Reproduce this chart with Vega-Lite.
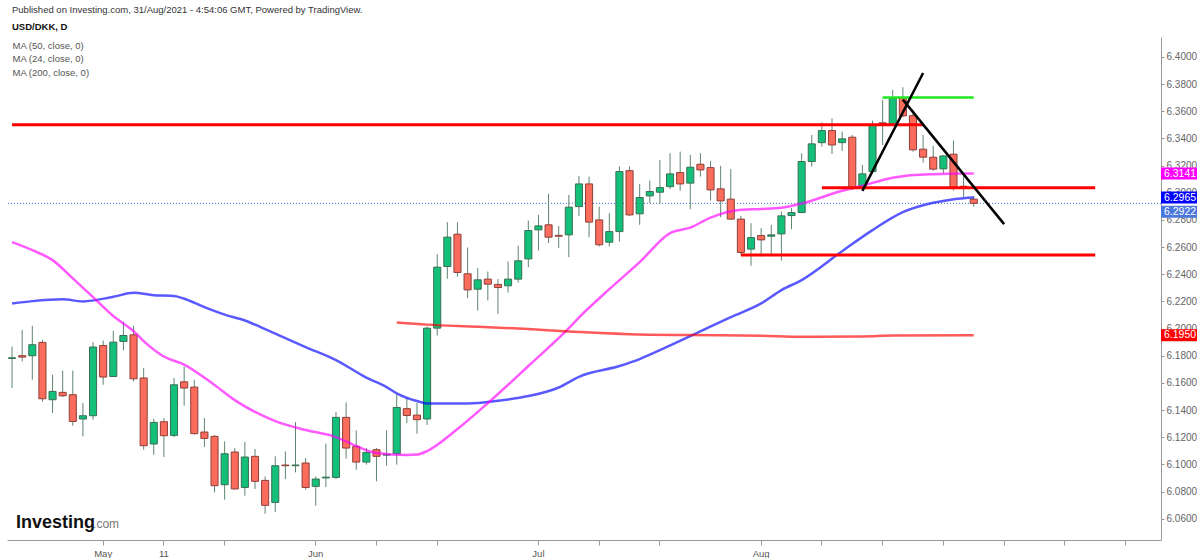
{
  "$schema": "https://vega.github.io/schema/vega-lite/v6.json",
  "width": 1154,
  "height": 503,
  "padding": {"left": 6, "top": 5, "right": 0, "bottom": 0},
  "background": "white",
  "title": {
    "text": "Published on Investing.com, 31/Aug/2021 - 4:54:06 GMT, Powered by TradingView.",
    "subtitle": "USD/DKK, D",
    "anchor": "start",
    "frame": "group",
    "dx": 5,
    "offset": 6,
    "font": "Liberation Sans",
    "fontSize": 9.5,
    "fontWeight": "normal",
    "color": "#333333",
    "subtitleFont": "Liberation Sans",
    "subtitleFontSize": 9.5,
    "subtitleFontWeight": "bold",
    "subtitleColor": "#111111",
    "subtitlePadding": 7
  },
  "config": {
    "view": {"stroke": null},
    "font": "Liberation Sans",
    "axis": {"labelOverlap": false, "labelBound": false}
  },
  "datasets": {
    "candles": [
      {"d": "2021-04-20", "o": 6.1780, "h": 6.1868, "l": 6.1562, "c": 6.1785},
      {"d": "2021-04-21", "o": 6.1800, "h": 6.1991, "l": 6.1758, "c": 6.1790},
      {"d": "2021-04-22", "o": 6.1800, "h": 6.2020, "l": 6.1623, "c": 6.1881},
      {"d": "2021-04-23", "o": 6.1898, "h": 6.1917, "l": 6.1463, "c": 6.1483},
      {"d": "2021-04-26", "o": 6.1476, "h": 6.1660, "l": 6.1378, "c": 6.1537},
      {"d": "2021-04-27", "o": 6.1530, "h": 6.1691, "l": 6.1496, "c": 6.1505},
      {"d": "2021-04-28", "o": 6.1513, "h": 6.1691, "l": 6.1284, "c": 6.1316},
      {"d": "2021-04-29", "o": 6.1334, "h": 6.1452, "l": 6.1206, "c": 6.1358},
      {"d": "2021-04-30", "o": 6.1358, "h": 6.1900, "l": 6.1329, "c": 6.1864},
      {"d": "2021-05-03", "o": 6.1875, "h": 6.1912, "l": 6.1586, "c": 6.1643},
      {"d": "2021-05-04", "o": 6.1647, "h": 6.1984, "l": 6.1643, "c": 6.1900},
      {"d": "2021-05-05", "o": 6.1905, "h": 6.2052, "l": 6.1839, "c": 6.1949},
      {"d": "2021-05-06", "o": 6.1954, "h": 6.2020, "l": 6.1610, "c": 6.1630},
      {"d": "2021-05-07", "o": 6.1636, "h": 6.1709, "l": 6.1108, "c": 6.1137},
      {"d": "2021-05-10", "o": 6.1150, "h": 6.1334, "l": 6.1071, "c": 6.1309},
      {"d": "2021-05-11", "o": 6.1314, "h": 6.1341, "l": 6.1054, "c": 6.1211},
      {"d": "2021-05-12", "o": 6.1213, "h": 6.1636, "l": 6.1201, "c": 6.1586},
      {"d": "2021-05-13", "o": 6.1608, "h": 6.1721, "l": 6.1432, "c": 6.1562},
      {"d": "2021-05-14", "o": 6.1569, "h": 6.1623, "l": 6.1220, "c": 6.1226},
      {"d": "2021-05-17", "o": 6.1238, "h": 6.1341, "l": 6.1128, "c": 6.1191},
      {"d": "2021-05-18", "o": 6.1206, "h": 6.1215, "l": 6.0794, "c": 6.0843},
      {"d": "2021-05-19", "o": 6.0850, "h": 6.1169, "l": 6.0740, "c": 6.1078},
      {"d": "2021-05-20", "o": 6.1091, "h": 6.1120, "l": 6.0814, "c": 6.0819},
      {"d": "2021-05-21", "o": 6.0830, "h": 6.1164, "l": 6.0769, "c": 6.1054},
      {"d": "2021-05-24", "o": 6.1059, "h": 6.1113, "l": 6.0819, "c": 6.0875},
      {"d": "2021-05-25", "o": 6.0882, "h": 6.0911, "l": 6.0637, "c": 6.0698},
      {"d": "2021-05-26", "o": 6.0720, "h": 6.1059, "l": 6.0649, "c": 6.0990},
      {"d": "2021-05-27", "o": 6.0995, "h": 6.1095, "l": 6.0892, "c": 6.0990},
      {"d": "2021-05-28", "o": 6.0990, "h": 6.1312, "l": 6.0941, "c": 6.0995},
      {"d": "2021-05-31", "o": 6.1010, "h": 6.1047, "l": 6.0814, "c": 6.0830},
      {"d": "2021-06-01", "o": 6.0838, "h": 6.0911, "l": 6.0696, "c": 6.0892},
      {"d": "2021-06-02", "o": 6.0900, "h": 6.1152, "l": 6.0833, "c": 6.0906},
      {"d": "2021-06-03", "o": 6.0904, "h": 6.1385, "l": 6.0892, "c": 6.1346},
      {"d": "2021-06-04", "o": 6.1346, "h": 6.1456, "l": 6.1042, "c": 6.1120},
      {"d": "2021-06-07", "o": 6.1132, "h": 6.1250, "l": 6.0961, "c": 6.1017},
      {"d": "2021-06-08", "o": 6.1017, "h": 6.1120, "l": 6.0998, "c": 6.1088},
      {"d": "2021-06-09", "o": 6.1108, "h": 6.1120, "l": 6.0875, "c": 6.1059},
      {"d": "2021-06-10", "o": 6.1068, "h": 6.1250, "l": 6.0990, "c": 6.1074},
      {"d": "2021-06-11", "o": 6.1078, "h": 6.1513, "l": 6.0998, "c": 6.1419},
      {"d": "2021-06-14", "o": 6.1410, "h": 6.1488, "l": 6.1304, "c": 6.1360},
      {"d": "2021-06-15", "o": 6.1363, "h": 6.1452, "l": 6.1226, "c": 6.1329},
      {"d": "2021-06-16", "o": 6.1334, "h": 6.2015, "l": 6.1290, "c": 6.2003},
      {"d": "2021-06-17", "o": 6.2003, "h": 6.2548, "l": 6.1949, "c": 6.2452},
      {"d": "2021-06-18", "o": 6.2457, "h": 6.2784, "l": 6.2366, "c": 6.2673},
      {"d": "2021-06-21", "o": 6.2695, "h": 6.2784, "l": 6.2383, "c": 6.2413},
      {"d": "2021-06-22", "o": 6.2403, "h": 6.2597, "l": 6.2224, "c": 6.2285},
      {"d": "2021-06-23", "o": 6.2290, "h": 6.2445, "l": 6.2133, "c": 6.2359},
      {"d": "2021-06-24", "o": 6.2364, "h": 6.2420, "l": 6.2207, "c": 6.2327},
      {"d": "2021-06-25", "o": 6.2325, "h": 6.2364, "l": 6.2109, "c": 6.2302},
      {"d": "2021-06-28", "o": 6.2315, "h": 6.2494, "l": 6.2265, "c": 6.2364},
      {"d": "2021-06-29", "o": 6.2364, "h": 6.2611, "l": 6.2339, "c": 6.2499},
      {"d": "2021-06-30", "o": 6.2513, "h": 6.2795, "l": 6.2452, "c": 6.2722},
      {"d": "2021-07-01", "o": 6.2727, "h": 6.2837, "l": 6.2575, "c": 6.2756},
      {"d": "2021-07-02", "o": 6.2764, "h": 6.2992, "l": 6.2629, "c": 6.2673},
      {"d": "2021-07-05", "o": 6.2686, "h": 6.2756, "l": 6.2592, "c": 6.2680},
      {"d": "2021-07-06", "o": 6.2690, "h": 6.2984, "l": 6.2526, "c": 6.2894},
      {"d": "2021-07-07", "o": 6.2898, "h": 6.3124, "l": 6.2830, "c": 6.3065},
      {"d": "2021-07-08", "o": 6.3065, "h": 6.3119, "l": 6.2673, "c": 6.2784},
      {"d": "2021-07-09", "o": 6.2800, "h": 6.2898, "l": 6.2604, "c": 6.2617},
      {"d": "2021-07-12", "o": 6.2636, "h": 6.2850, "l": 6.2604, "c": 6.2714},
      {"d": "2021-07-13", "o": 6.2714, "h": 6.3193, "l": 6.2641, "c": 6.3156},
      {"d": "2021-07-14", "o": 6.3163, "h": 6.3193, "l": 6.2830, "c": 6.2837},
      {"d": "2021-07-15", "o": 6.2845, "h": 6.3063, "l": 6.2764, "c": 6.2965},
      {"d": "2021-07-16", "o": 6.2977, "h": 6.3090, "l": 6.2923, "c": 6.3009},
      {"d": "2021-07-19", "o": 6.3004, "h": 6.3242, "l": 6.2918, "c": 6.3038},
      {"d": "2021-07-20", "o": 6.3045, "h": 6.3291, "l": 6.3026, "c": 6.3139},
      {"d": "2021-07-21", "o": 6.3149, "h": 6.3303, "l": 6.3016, "c": 6.3065},
      {"d": "2021-07-22", "o": 6.3071, "h": 6.3279, "l": 6.2879, "c": 6.3188},
      {"d": "2021-07-23", "o": 6.3210, "h": 6.3291, "l": 6.3119, "c": 6.3168},
      {"d": "2021-07-26", "o": 6.3185, "h": 6.3235, "l": 6.2942, "c": 6.3021},
      {"d": "2021-07-27", "o": 6.3029, "h": 6.3198, "l": 6.2820, "c": 6.2940},
      {"d": "2021-07-28", "o": 6.2953, "h": 6.3174, "l": 6.2800, "c": 6.2806},
      {"d": "2021-07-29", "o": 6.2806, "h": 6.2830, "l": 6.2543, "c": 6.2560},
      {"d": "2021-07-30", "o": 6.2585, "h": 6.2776, "l": 6.2462, "c": 6.2670},
      {"d": "2021-08-02", "o": 6.2685, "h": 6.2739, "l": 6.2530, "c": 6.2653},
      {"d": "2021-08-03", "o": 6.2680, "h": 6.2764, "l": 6.2535, "c": 6.2690},
      {"d": "2021-08-04", "o": 6.2697, "h": 6.2862, "l": 6.2501, "c": 6.2830},
      {"d": "2021-08-05", "o": 6.2832, "h": 6.2887, "l": 6.2732, "c": 6.2854},
      {"d": "2021-08-06", "o": 6.2854, "h": 6.3291, "l": 6.2850, "c": 6.3230},
      {"d": "2021-08-09", "o": 6.3230, "h": 6.3426, "l": 6.3193, "c": 6.3360},
      {"d": "2021-08-10", "o": 6.3369, "h": 6.3519, "l": 6.3340, "c": 6.3458},
      {"d": "2021-08-11", "o": 6.3458, "h": 6.3549, "l": 6.3286, "c": 6.3352},
      {"d": "2021-08-12", "o": 6.3369, "h": 6.3450, "l": 6.3308, "c": 6.3397},
      {"d": "2021-08-13", "o": 6.3409, "h": 6.3426, "l": 6.3021, "c": 6.3034},
      {"d": "2021-08-16", "o": 6.3041, "h": 6.3205, "l": 6.3021, "c": 6.3139},
      {"d": "2021-08-17", "o": 6.3156, "h": 6.3531, "l": 6.3149, "c": 6.3500},
      {"d": "2021-08-18", "o": 6.3515, "h": 6.3684, "l": 6.3352, "c": 6.3510},
      {"d": "2021-08-19", "o": 6.3507, "h": 6.3757, "l": 6.3500, "c": 6.3696},
      {"d": "2021-08-20", "o": 6.3700, "h": 6.3777, "l": 6.3556, "c": 6.3566},
      {"d": "2021-08-23", "o": 6.3568, "h": 6.3610, "l": 6.3303, "c": 6.3316},
      {"d": "2021-08-24", "o": 6.3321, "h": 6.3426, "l": 6.3222, "c": 6.3262},
      {"d": "2021-08-25", "o": 6.3262, "h": 6.3345, "l": 6.3163, "c": 6.3174},
      {"d": "2021-08-26", "o": 6.3176, "h": 6.3279, "l": 6.3144, "c": 6.3271},
      {"d": "2021-08-27", "o": 6.3284, "h": 6.3384, "l": 6.3016, "c": 6.3034},
      {"d": "2021-08-30", "o": 6.3048, "h": 6.3139, "l": 6.2968, "c": 6.3042},
      {"d": "2021-08-31", "o": 6.2953, "h": 6.2977, "l": 6.2898, "c": 6.2922}
    ],
    "ma": [
      {"ma": "MA (50, close, 0)", "d": "2021-04-20", "v": 6.2185},
      {"ma": "MA (50, close, 0)", "d": "2021-04-22", "v": 6.2202},
      {"ma": "MA (50, close, 0)", "d": "2021-04-27", "v": 6.2215},
      {"ma": "MA (50, close, 0)", "d": "2021-04-29", "v": 6.2200},
      {"ma": "MA (50, close, 0)", "d": "2021-05-04", "v": 6.2234},
      {"ma": "MA (50, close, 0)", "d": "2021-05-06", "v": 6.2263},
      {"ma": "MA (50, close, 0)", "d": "2021-05-10", "v": 6.2246},
      {"ma": "MA (50, close, 0)", "d": "2021-05-12", "v": 6.2239},
      {"ma": "MA (50, close, 0)", "d": "2021-05-13", "v": 6.2220},
      {"ma": "MA (50, close, 0)", "d": "2021-05-17", "v": 6.2158},
      {"ma": "MA (50, close, 0)", "d": "2021-05-19", "v": 6.2103},
      {"ma": "MA (50, close, 0)", "d": "2021-05-21", "v": 6.2059},
      {"ma": "MA (50, close, 0)", "d": "2021-05-25", "v": 6.1996},
      {"ma": "MA (50, close, 0)", "d": "2021-05-27", "v": 6.1930},
      {"ma": "MA (50, close, 0)", "d": "2021-05-31", "v": 6.1864},
      {"ma": "MA (50, close, 0)", "d": "2021-06-03", "v": 6.1768},
      {"ma": "MA (50, close, 0)", "d": "2021-06-08", "v": 6.1639},
      {"ma": "MA (50, close, 0)", "d": "2021-06-10", "v": 6.1569},
      {"ma": "MA (50, close, 0)", "d": "2021-06-11", "v": 6.1523},
      {"ma": "MA (50, close, 0)", "d": "2021-06-15", "v": 6.1466},
      {"ma": "MA (50, close, 0)", "d": "2021-06-16", "v": 6.1449},
      {"ma": "MA (50, close, 0)", "d": "2021-06-22", "v": 6.1448},
      {"ma": "MA (50, close, 0)", "d": "2021-06-25", "v": 6.1468},
      {"ma": "MA (50, close, 0)", "d": "2021-06-30", "v": 6.1503},
      {"ma": "MA (50, close, 0)", "d": "2021-07-05", "v": 6.1566},
      {"ma": "MA (50, close, 0)", "d": "2021-07-07", "v": 6.1645},
      {"ma": "MA (50, close, 0)", "d": "2021-07-13", "v": 6.1724},
      {"ma": "MA (50, close, 0)", "d": "2021-07-15", "v": 6.1775},
      {"ma": "MA (50, close, 0)", "d": "2021-07-19", "v": 6.1841},
      {"ma": "MA (50, close, 0)", "d": "2021-07-22", "v": 6.1944},
      {"ma": "MA (50, close, 0)", "d": "2021-07-28", "v": 6.2084},
      {"ma": "MA (50, close, 0)", "d": "2021-08-02", "v": 6.2185},
      {"ma": "MA (50, close, 0)", "d": "2021-08-04", "v": 6.2283},
      {"ma": "MA (50, close, 0)", "d": "2021-08-06", "v": 6.2357},
      {"ma": "MA (50, close, 0)", "d": "2021-08-12", "v": 6.2570},
      {"ma": "MA (50, close, 0)", "d": "2021-08-17", "v": 6.2725},
      {"ma": "MA (50, close, 0)", "d": "2021-08-20", "v": 6.2857},
      {"ma": "MA (50, close, 0)", "d": "2021-08-25", "v": 6.2926},
      {"ma": "MA (50, close, 0)", "d": "2021-08-30", "v": 6.2960},
      {"ma": "MA (50, close, 0)", "d": "2021-08-31", "v": 6.2965},
      {"ma": "MA (24, close, 0)", "d": "2021-04-20", "v": 6.2636},
      {"ma": "MA (24, close, 0)", "d": "2021-04-22", "v": 6.2577},
      {"ma": "MA (24, close, 0)", "d": "2021-04-26", "v": 6.2504},
      {"ma": "MA (24, close, 0)", "d": "2021-04-28", "v": 6.2369},
      {"ma": "MA (24, close, 0)", "d": "2021-04-30", "v": 6.2232},
      {"ma": "MA (24, close, 0)", "d": "2021-05-04", "v": 6.2092},
      {"ma": "MA (24, close, 0)", "d": "2021-05-06", "v": 6.1981},
      {"ma": "MA (24, close, 0)", "d": "2021-05-07", "v": 6.1908},
      {"ma": "MA (24, close, 0)", "d": "2021-05-11", "v": 6.1794},
      {"ma": "MA (24, close, 0)", "d": "2021-05-13", "v": 6.1735},
      {"ma": "MA (24, close, 0)", "d": "2021-05-18", "v": 6.1584},
      {"ma": "MA (24, close, 0)", "d": "2021-05-20", "v": 6.1473},
      {"ma": "MA (24, close, 0)", "d": "2021-05-26", "v": 6.1319},
      {"ma": "MA (24, close, 0)", "d": "2021-05-31", "v": 6.1253},
      {"ma": "MA (24, close, 0)", "d": "2021-06-03", "v": 6.1201},
      {"ma": "MA (24, close, 0)", "d": "2021-06-07", "v": 6.1135},
      {"ma": "MA (24, close, 0)", "d": "2021-06-09", "v": 6.1083},
      {"ma": "MA (24, close, 0)", "d": "2021-06-14", "v": 6.1069},
      {"ma": "MA (24, close, 0)", "d": "2021-06-15", "v": 6.1072},
      {"ma": "MA (24, close, 0)", "d": "2021-06-16", "v": 6.1098},
      {"ma": "MA (24, close, 0)", "d": "2021-06-21", "v": 6.1260},
      {"ma": "MA (24, close, 0)", "d": "2021-06-24", "v": 6.1451},
      {"ma": "MA (24, close, 0)", "d": "2021-06-30", "v": 6.1724},
      {"ma": "MA (24, close, 0)", "d": "2021-07-06", "v": 6.2003},
      {"ma": "MA (24, close, 0)", "d": "2021-07-07", "v": 6.2081},
      {"ma": "MA (24, close, 0)", "d": "2021-07-12", "v": 6.2290},
      {"ma": "MA (24, close, 0)", "d": "2021-07-15", "v": 6.2489},
      {"ma": "MA (24, close, 0)", "d": "2021-07-20", "v": 6.2703},
      {"ma": "MA (24, close, 0)", "d": "2021-07-22", "v": 6.2743},
      {"ma": "MA (24, close, 0)", "d": "2021-07-26", "v": 6.2817},
      {"ma": "MA (24, close, 0)", "d": "2021-07-29", "v": 6.2875},
      {"ma": "MA (24, close, 0)", "d": "2021-08-02", "v": 6.2881},
      {"ma": "MA (24, close, 0)", "d": "2021-08-04", "v": 6.2890},
      {"ma": "MA (24, close, 0)", "d": "2021-08-06", "v": 6.2921},
      {"ma": "MA (24, close, 0)", "d": "2021-08-12", "v": 6.3015},
      {"ma": "MA (24, close, 0)", "d": "2021-08-16", "v": 6.3052},
      {"ma": "MA (24, close, 0)", "d": "2021-08-19", "v": 6.3111},
      {"ma": "MA (24, close, 0)", "d": "2021-08-20", "v": 6.3122},
      {"ma": "MA (24, close, 0)", "d": "2021-08-25", "v": 6.3137},
      {"ma": "MA (24, close, 0)", "d": "2021-08-30", "v": 6.3142},
      {"ma": "MA (24, close, 0)", "d": "2021-08-31", "v": 6.3141},
      {"ma": "MA (200, close, 0)", "d": "2021-06-11", "v": 6.2045},
      {"ma": "MA (200, close, 0)", "d": "2021-06-16", "v": 6.2029},
      {"ma": "MA (200, close, 0)", "d": "2021-06-23", "v": 6.2014},
      {"ma": "MA (200, close, 0)", "d": "2021-06-30", "v": 6.1996},
      {"ma": "MA (200, close, 0)", "d": "2021-07-06", "v": 6.1978},
      {"ma": "MA (200, close, 0)", "d": "2021-07-14", "v": 6.1959},
      {"ma": "MA (200, close, 0)", "d": "2021-07-22", "v": 6.1952},
      {"ma": "MA (200, close, 0)", "d": "2021-08-02", "v": 6.1947},
      {"ma": "MA (200, close, 0)", "d": "2021-08-06", "v": 6.1940},
      {"ma": "MA (200, close, 0)", "d": "2021-08-16", "v": 6.1942},
      {"ma": "MA (200, close, 0)", "d": "2021-08-19", "v": 6.1948},
      {"ma": "MA (200, close, 0)", "d": "2021-08-31", "v": 6.1950}
    ],
    "notes": [
      {"id": "r1", "d": "2021-04-20", "p": 6.3500},
      {"id": "r1", "d": "2021-08-24", "p": 6.3500},
      {"id": "r2", "d": "2021-08-10", "p": 6.3036},
      {"id": "r2", "d": "2021-09-16", "p": 6.3036},
      {"id": "r3", "d": "2021-07-29", "p": 6.2541},
      {"id": "r3", "d": "2021-09-16", "p": 6.2541},
      {"id": "g1", "d": "2021-08-18", "p": 6.3701},
      {"id": "g1", "d": "2021-08-31", "p": 6.3701},
      {"id": "b1", "d": "2021-08-16", "p": 6.3014},
      {"id": "b1", "d": "2021-08-24", "p": 6.3882},
      {"id": "b2", "d": "2021-08-20", "p": 6.3686},
      {"id": "b2", "d": "2021-09-03", "p": 6.2769}
    ],
    "last": [
      {"ma": "MA (24, close, 0)", "v": 6.3141},
      {"ma": "MA (50, close, 0)", "v": 6.2965},
      {"ma": "MA (200, close, 0)", "v": 6.1950}
    ],
    "price": [
      {"v": 6.2922}
    ]
  },
  "layer": [
    {
      "data": {"name": "price"},
      "mark": {"type": "rule", "color": "#3f6fe8", "strokeDash": [1, 2], "strokeWidth": 1},
      "encoding": {
        "y": {
          "field": "v",
          "type": "quantitative",
          "scale": {"domain": [6.0443, 6.4147], "nice": false, "zero": false},
          "axis": {
            "orient": "right",
            "title": null,
            "values": [6.06, 6.08, 6.1, 6.12, 6.14, 6.16, 6.18, 6.2, 6.22, 6.24, 6.26, 6.28, 6.3, 6.32, 6.34, 6.36, 6.38, 6.4],
            "tickCount": 40,
            "format": ".4f",
            "grid": false,
            "domainColor": "#999999",
            "tickColor": "#999999",
            "tickSize": 3,
            "labelPadding": 2,
            "labelColor": "#666666",
            "labelFontSize": 10,
            "labelFont": "Liberation Sans",
            "zindex": 0
          }
        }
      }
    },
    {
      "encoding": {
        "x": {
          "field": "d",
          "type": "ordinal",
          "scale": {
            "type": "band",
            "paddingInner": 0.3,
            "paddingOuter": 0.15,
            "domain": [
              "2021-04-20", "2021-04-21", "2021-04-22", "2021-04-23", "2021-04-26", "2021-04-27", "2021-04-28", "2021-04-29", "2021-04-30",
              "2021-05-03", "2021-05-04", "2021-05-05", "2021-05-06", "2021-05-07", "2021-05-10", "2021-05-11", "2021-05-12", "2021-05-13", "2021-05-14",
              "2021-05-17", "2021-05-18", "2021-05-19", "2021-05-20", "2021-05-21", "2021-05-24", "2021-05-25", "2021-05-26", "2021-05-27", "2021-05-28", "2021-05-31",
              "2021-06-01", "2021-06-02", "2021-06-03", "2021-06-04", "2021-06-07", "2021-06-08", "2021-06-09", "2021-06-10", "2021-06-11",
              "2021-06-14", "2021-06-15", "2021-06-16", "2021-06-17", "2021-06-18", "2021-06-21", "2021-06-22", "2021-06-23", "2021-06-24", "2021-06-25",
              "2021-06-28", "2021-06-29", "2021-06-30", "2021-07-01", "2021-07-02", "2021-07-05", "2021-07-06", "2021-07-07", "2021-07-08", "2021-07-09",
              "2021-07-12", "2021-07-13", "2021-07-14", "2021-07-15", "2021-07-16", "2021-07-19", "2021-07-20", "2021-07-21", "2021-07-22", "2021-07-23",
              "2021-07-26", "2021-07-27", "2021-07-28", "2021-07-29", "2021-07-30", "2021-08-02", "2021-08-03", "2021-08-04", "2021-08-05", "2021-08-06",
              "2021-08-09", "2021-08-10", "2021-08-11", "2021-08-12", "2021-08-13", "2021-08-16", "2021-08-17", "2021-08-18", "2021-08-19", "2021-08-20",
              "2021-08-23", "2021-08-24", "2021-08-25", "2021-08-26", "2021-08-27", "2021-08-30", "2021-08-31", "2021-09-01", "2021-09-02", "2021-09-03",
              "2021-09-06", "2021-09-07", "2021-09-08", "2021-09-09", "2021-09-10", "2021-09-13", "2021-09-14", "2021-09-15", "2021-09-16", "2021-09-17",
              "2021-09-20", "2021-09-21", "2021-09-22", "2021-09-23", "2021-09-24"
            ]
          },
          "axis": {
            "title": null,
            "grid": false,
            "values": ["2021-05-03", "2021-05-11", "2021-05-19", "2021-06-01", "2021-06-09", "2021-06-17", "2021-07-01", "2021-07-09", "2021-07-19", "2021-08-02", "2021-08-10", "2021-08-18", "2021-08-26", "2021-09-03", "2021-09-13", "2021-09-21"],
            "tickCount": 40,
            "labelExpr": "datum.value == '2021-05-03' ? 'May' : datum.value == '2021-05-11' ? '11' : datum.value == '2021-06-01' ? 'Jun' : datum.value == '2021-07-01' ? 'Jul' : datum.value == '2021-08-02' ? 'Aug' : ''",
            "labelAngle": 0,
            "labelColor": "#555555",
            "labelFontSize": 9.5,
            "labelFont": "Liberation Sans",
            "labelPadding": 3,
            "domainColor": "#999999",
            "tickColor": "#999999",
            "tickSize": 5
          }
        }
      },
      "layer": [
        {
          "data": {"name": "candles"},
          "mark": {"type": "rule", "color": "#5f8570", "strokeWidth": 1},
          "encoding": {
            "y": {"field": "l", "type": "quantitative"},
            "y2": {"field": "h"}
          }
        },
        {
          "data": {"name": "candles"},
          "mark": {"type": "bar", "strokeWidth": 1},
          "encoding": {
            "y": {"field": "o", "type": "quantitative"},
            "y2": {"field": "c"},
            "fill": {"condition": {"test": "datum.c >= datum.o", "value": "#12c07a"}, "value": "#fc6c5d"},
            "stroke": {"condition": {"test": "datum.c >= datum.o", "value": "#3b6e54"}, "value": "#8e3f38"}
          }
        },
        {
          "data": {"name": "ma"},
          "mark": {"type": "line", "strokeWidth": 2.5, "strokeOpacity": 0.65, "interpolate": "monotone"},
          "encoding": {
            "y": {"field": "v", "type": "quantitative"},
            "color": {
              "field": "ma",
              "type": "nominal",
              "scale": {"domain": ["MA (50, close, 0)", "MA (24, close, 0)", "MA (200, close, 0)"], "range": ["#0000ff", "#ff00ff", "#ff0000"]},
              "legend": {
                "orient": "top-left",
                "title": null,
                "offset": 4,
                "padding": 0,
                "labelFont": "Liberation Sans",
                "labelFontSize": 9.5,
                "labelColor": "#555555",
                "labelOffset": -8,
                "symbolSize": 0,
                "symbolOpacity": 0,
                "symbolStrokeWidth": 0,
                "rowPadding": 2.5
              }
            }
          }
        },
        {
          "data": {"name": "notes"},
          "transform": [{"filter": {"field": "id", "oneOf": ["r1", "r2", "r3"]}}],
          "mark": {"type": "line", "color": "#ff0000", "strokeWidth": 3},
          "encoding": {
            "y": {"field": "p", "type": "quantitative"},
            "detail": {"field": "id"}
          }
        },
        {
          "data": {"name": "notes"},
          "transform": [{"filter": {"field": "id", "equal": "g1"}}],
          "mark": {"type": "line", "color": "#22e822", "strokeWidth": 2.5},
          "encoding": {
            "y": {"field": "p", "type": "quantitative"},
            "detail": {"field": "id"}
          }
        },
        {
          "data": {"name": "notes"},
          "transform": [{"filter": {"field": "id", "oneOf": ["b1", "b2"]}}],
          "mark": {"type": "line", "color": "#000000", "strokeWidth": 2.5},
          "encoding": {
            "y": {"field": "p", "type": "quantitative"},
            "detail": {"field": "id"}
          }
        }
      ]
    },
    {
      "data": {"name": "last"},
      "mark": {"type": "point", "shape": "M0,-0.1667L1,-0.1667L1,0.1667L0,0.1667Z", "size": 5184, "filled": true, "opacity": 1, "strokeWidth": 0},
      "encoding": {
        "x": {"value": "width"},
        "y": {"field": "v", "type": "quantitative"},
        "color": {"field": "ma", "type": "nominal"}
      }
    },
    {
      "data": {"name": "last"},
      "mark": {"type": "text", "align": "left", "baseline": "middle", "dx": 3, "fontSize": 10.5, "color": "white", "font": "Liberation Sans"},
      "encoding": {
        "x": {"value": "width"},
        "y": {"field": "v", "type": "quantitative"},
        "text": {"field": "v", "type": "quantitative", "format": ".4f"}
      }
    },
    {
      "data": {"name": "price"},
      "mark": {"type": "point", "shape": "M0,-0.1667L1,-0.1667L1,0.1667L0,0.1667Z", "size": 5184, "filled": true, "opacity": 1, "strokeWidth": 0, "color": "#4a78dd", "yOffset": 8.5},
      "encoding": {
        "x": {"value": "width"},
        "y": {"field": "v", "type": "quantitative"}
      }
    },
    {
      "data": {"name": "price"},
      "mark": {"type": "text", "align": "left", "baseline": "middle", "dx": 3, "fontSize": 10.5, "color": "white", "font": "Liberation Sans", "yOffset": 8.5},
      "encoding": {
        "x": {"value": "width"},
        "y": {"field": "v", "type": "quantitative"},
        "text": {"field": "v", "type": "quantitative", "format": ".4f"}
      }
    },
    {
      "data": {"values": [{"t": "Investing"}]},
      "mark": {"type": "text", "align": "left", "baseline": "alphabetic", "dx": 4, "fontSize": 18, "fontWeight": "bold", "color": "#111111", "font": "Liberation Sans"},
      "encoding": {
        "x": {"datum": "2021-04-20", "type": "ordinal"},
        "y": {"datum": 6.0531, "type": "quantitative"},
        "text": {"field": "t"}
      }
    },
    {
      "data": {"values": [{"t": ".com"}]},
      "mark": {"type": "text", "align": "left", "baseline": "alphabetic", "dx": 0, "fontSize": 12, "color": "#777777", "font": "Liberation Sans"},
      "encoding": {
        "x": {"datum": "2021-04-30", "type": "ordinal"},
        "y": {"datum": 6.0531, "type": "quantitative"},
        "text": {"field": "t"}
      }
    }
  ]
}
